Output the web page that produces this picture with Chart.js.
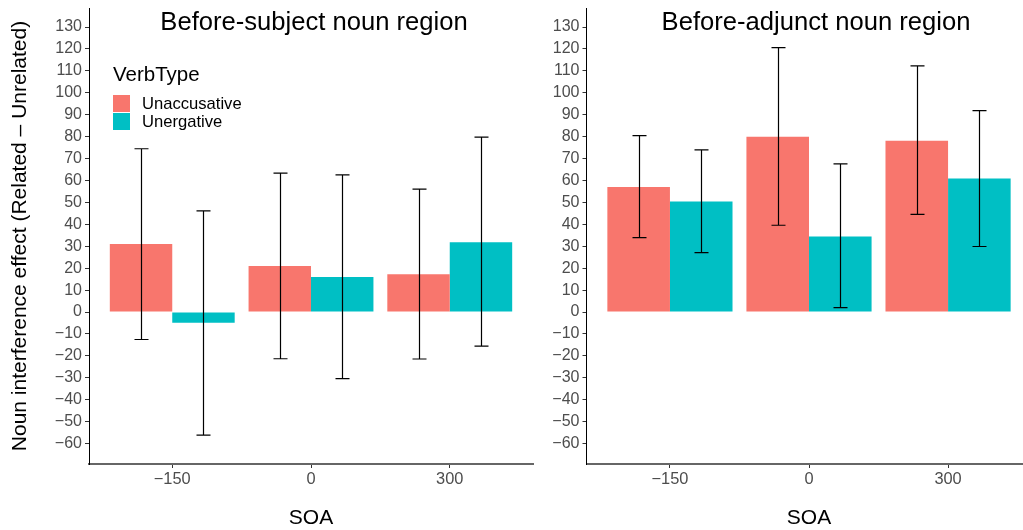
<!DOCTYPE html>
<html>
<head>
<meta charset="utf-8">
<script src="https://cdn.jsdelivr.net/npm/chart.js@4"></script>
<style>
  html, body { margin: 0; padding: 0; background: #fff; overflow: hidden; }
  #wrap { position: relative; width: 1023px; height: 530px; overflow: hidden; }
  .panel { position: absolute; top: 0; height: 530px; }
  #left { left: 0; width: 545px; }
  #right { left: 545px; width: 500px; }
</style>
</head>
<body>
<div id="wrap">
  <div class="panel" id="left"><canvas id="chartLeft"></canvas></div>
  <div class="panel" id="right"><canvas id="chartRight"></canvas></div>
</div>
<script>
const soaLabels = ["−150", "0", "300"];
const verbTypes = ["Unaccusative", "Unergative"];
const verbColors = ["#F8766D", "#00BFC4"];

// Before-subject noun region (mean, lower and upper error)
const subjUnacc = [31.0, 21.0, 17.3];
const subjUnaccLo = [-12.5, -21.3, -21.4];
const subjUnaccHi = [74.5, 63.4, 56.1];
const subjUnerg = [-4.9, 16.0, 31.9];
const subjUnergLo = [-56.1, -30.4, -15.5];
const subjUnergHi = [46.2, 62.6, 79.8];

// Before-adjunct noun region
const adjUnacc = [57.1, 80.0, 78.1];
const adjUnaccLo = [34.0, 39.6, 44.6];
const adjUnaccHi = [80.5, 120.6, 112.3];
const adjUnerg = [50.4, 34.5, 60.9];
const adjUnergLo = [27.1, 2.0, 29.9];
const adjUnergHi = [74.0, 67.6, 91.9];

const FONT = "'Liberation Sans', Arial, sans-serif";
Chart.defaults.font.family = FONT;

function minusFmt(v) {
  return v < 0 ? "−" + Math.abs(v) : String(v);
}

// error bars with small caps
const errorBars = {
  id: 'errorBars',
  afterDatasetsDraw(chart) {
    const ctx = chart.ctx;
    const y = chart.scales.y;
    ctx.save();
    ctx.strokeStyle = '#000';
    ctx.lineWidth = 1.2;
    chart.data.datasets.forEach((ds, di) => {
      const meta = chart.getDatasetMeta(di);
      meta.data.forEach((bar, i) => {
        const x = Math.round(bar.x) + 0.5;
        const top = y.getPixelForValue(ds.errHi[i]);
        const bot = y.getPixelForValue(ds.errLo[i]);
        ctx.beginPath();
        ctx.moveTo(x, top); ctx.lineTo(x, bot);
        ctx.moveTo(x - 7, top); ctx.lineTo(x + 7, top);
        ctx.moveTo(x - 7, bot); ctx.lineTo(x + 7, bot);
        ctx.stroke();
      });
    });
    ctx.restore();
  }
};

// panel title drawn inside the plot
const panelTitle = {
  id: 'panelTitle',
  afterDraw(chart, args, opts) {
    if (!opts.text) return;
    const ctx = chart.ctx;
    const a = chart.chartArea;
    ctx.save();
    ctx.font = "25.6px " + FONT;
    ctx.fillStyle = '#000';
    ctx.textAlign = 'center';
    ctx.textBaseline = 'alphabetic';
    ctx.fillText(opts.text, (a.left + a.right) / 2 + (opts.dx || 0), 30);
    ctx.restore();
  }
};

// legend inside the left panel
const verbLegend = {
  id: 'verbLegend',
  afterDraw(chart, args, opts) {
    if (!opts.show) return;
    const ctx = chart.ctx;
    ctx.save();
    ctx.fillStyle = '#000';
    ctx.textAlign = 'left';
    ctx.textBaseline = 'alphabetic';
    ctx.font = "20.5px " + FONT;
    ctx.fillText("VerbType", 113, 81);
    ctx.font = "16.6px " + FONT;
    ctx.textBaseline = 'middle';
    verbTypes.forEach((name, i) => {
      const top = 95 + i * 18;
      ctx.fillStyle = verbColors[i];
      ctx.fillRect(113, top, 17, 17);
      ctx.fillStyle = '#000';
      ctx.fillText(name, 142, top + 9);
    });
    ctx.restore();
  }
};

function makeDataset(idx, vals, lo, hi) {
  return {
    label: verbTypes[idx],
    data: vals.map((v, i) => ({ x: i, y: v })),
    errLo: lo,
    errHi: hi,
    backgroundColor: verbColors[idx],
    borderWidth: 0,
    categoryPercentage: 0.9,
    barPercentage: 1.0
  };
}

function makeChart(canvasId, title, titleDx, sets, withYTitle, yWidth, padRight, showLegend) {
  return new Chart(document.getElementById(canvasId), {
    type: 'bar',
    data: { datasets: sets },
    options: {
      responsive: true,
      maintainAspectRatio: false,
      animation: false,
      layout: { padding: { left: 0, top: 8, right: padRight, bottom: 0 } },
      plugins: {
        legend: { display: false },
        tooltip: { enabled: false },
        panelTitle: { text: title, dx: titleDx },
        verbLegend: { show: showLegend }
      },
      scales: {
        x: {
          type: 'linear',
          min: -0.6,
          max: 2.6,
          offset: false,
          border: { color: '#666', width: 2 },
          grid: { offset: false, drawOnChartArea: false, drawTicks: true, tickLength: 4, color: '#333' },
          afterBuildTicks: s => { s.ticks = soaLabels.map((_, i) => ({ value: i })); },
          ticks: {
            color: '#4d4d4d',
            font: { size: 16.4 },
            padding: 2,
            maxRotation: 0,
            autoSkip: false,
            callback: v => soaLabels[v]
          },
          title: {
            display: true,
            text: 'SOA',
            color: '#000',
            font: { size: 21, lineHeight: 1.1 },
            padding: { top: 0, bottom: 0 }
          },
          afterFit: s => { s.height = 66; s.paddingLeft = 0; s.paddingRight = 0; }
        },
        y: {
          min: -69.3,
          max: 138.7,
          border: { color: '#000', width: 1 },
          grid: { drawOnChartArea: false, drawTicks: true, tickLength: 4, color: '#333' },
          ticks: {
            stepSize: 10,
            includeBounds: false,
            autoSkip: false,
            color: '#4d4d4d',
            font: { size: 16 },
            padding: 3,
            callback: v => minusFmt(v)
          },
          title: {
            display: withYTitle,
            text: 'Noun interference effect (Related – Unrelated)',
            color: '#000',
            font: { size: 21 },
            padding: { top: 8, bottom: 0 }
          },
          afterFit: s => { s.width = yWidth; s.paddingTop = 0; s.paddingBottom = 0; }
        }
      }
    },
    plugins: [errorBars, panelTitle, verbLegend]
  });
}

makeChart('chartLeft', 'Before-subject noun region', 3, [
  makeDataset(0, subjUnacc, subjUnaccLo, subjUnaccHi),
  makeDataset(1, subjUnerg, subjUnergLo, subjUnergHi)
], true, 89, 12, true);

makeChart('chartRight', 'Before-adjunct noun region', 7, [
  makeDataset(0, adjUnacc, adjUnaccLo, adjUnaccHi),
  makeDataset(1, adjUnerg, adjUnergLo, adjUnergHi)
], false, 41.5, 13.5, false);
</script>
</body>
</html>
